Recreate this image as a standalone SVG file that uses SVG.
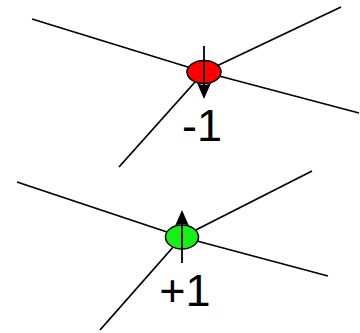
<svg xmlns="http://www.w3.org/2000/svg" width="360" height="333" viewBox="0 0 360 333">
<style>
.ln{stroke:#000;stroke-width:1.8;fill:none}
.nd{stroke:#000;stroke-width:1.5}
.ah{fill:#000;stroke:none}
.lbl{font-family:"Liberation Sans",Arial,sans-serif;font-size:45px;fill:#000;text-anchor:middle}
</style>
<g id="connectors">
<line class="ln" x1="32" y1="19" x2="204" y2="72"/>
<line class="ln" x1="341" y1="7" x2="204" y2="72"/>
<line class="ln" x1="359" y1="113" x2="204" y2="72"/>
<line class="ln" x1="119" y1="167" x2="204" y2="72"/>
<line class="ln" x1="17" y1="182" x2="182" y2="237"/>
<line class="ln" x1="312" y1="171" x2="182" y2="237"/>
<line class="ln" x1="328" y1="276" x2="182" y2="237"/>
<line class="ln" x1="100" y1="330" x2="182" y2="237"/>
</g>
<g id="node-minus">
<ellipse class="nd" cx="204" cy="72" rx="17" ry="11.5" fill="#ff0000"/>
<line class="ln" x1="204" y1="46" x2="204" y2="90"/>
<path class="ah" d="M197,83 Q204,87 211,83 L204,99 Z"/>
<text class="lbl" x="202" y="141">-1</text>
</g>
<g id="node-plus">
<ellipse class="nd" cx="182" cy="237" rx="16.5" ry="12" fill="#1aee1a"/>
<line class="ln" x1="182" y1="263" x2="182" y2="218"/>
<path class="ah" d="M175,226 Q182,222 189,226 L182,210 Z"/>
<text class="lbl" x="185" y="306">+1</text>
</g>
</svg>
